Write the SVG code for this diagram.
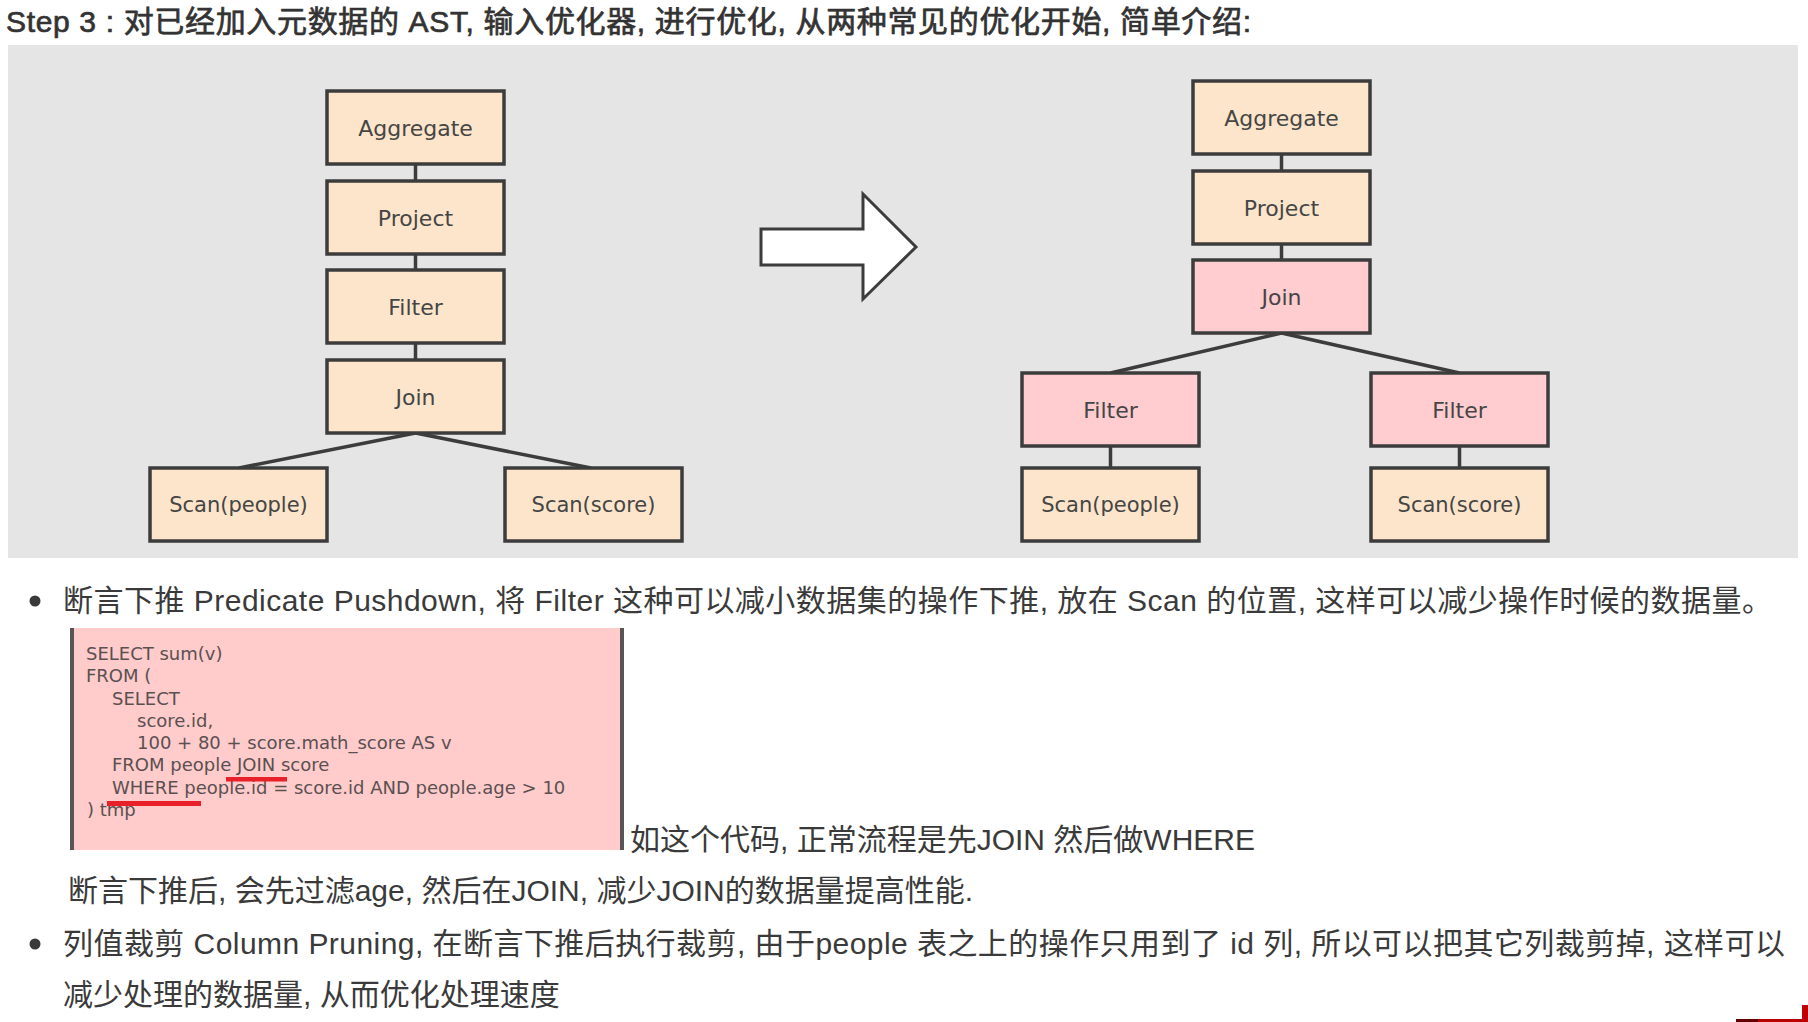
<svg xmlns="http://www.w3.org/2000/svg" width="1808" height="1022" viewBox="0 0 1808 1022">
<style>
.body{font-family:"Liberation Sans","Noto Sans CJK SC",sans-serif;font-size:30px;fill:#3a3a3a}
.title{font-family:"Liberation Sans","Noto Sans CJK SC",sans-serif;font-size:30px;font-weight:normal;fill:#333;stroke:#333;stroke-width:0.7}
.node rect{stroke:#3c3c3c;stroke-width:3.5}
.peach{fill:#fde5cb}
.pink{fill:#ffcccf}
.lbl{font-family:"DejaVu Sans",sans-serif;font-size:22px;fill:#454545;text-anchor:middle}
.lbl2{font-family:"DejaVu Sans",sans-serif;font-size:21px;fill:#454545;text-anchor:middle}
.code{font-family:"DejaVu Sans",sans-serif;font-size:18px;fill:#5a5050}
#connectors line{stroke:#3c3c3c;stroke-width:3.5}
</style>
<rect x="0" y="0" width="1808" height="1022" fill="#ffffff"/>
<text class="title" x="6" y="32" textLength="1245" lengthAdjust="spacing">Step 3 : 对已经加入元数据的 AST, 输入优化器, 进行优化, 从两种常见的优化开始, 简单介绍:</text>
<rect x="8" y="45" width="1790" height="513" fill="#e5e5e5"/>
<g id="connectors">
<line x1="415.5" y1="164" x2="415.5" y2="181"/>
<line x1="415.5" y1="254" x2="415.5" y2="270"/>
<line x1="415.5" y1="343" x2="415.5" y2="360"/>
<line x1="415.5" y1="433" x2="239" y2="468"/>
<line x1="415.5" y1="433" x2="591" y2="468"/>
<line x1="1281.5" y1="154" x2="1281.5" y2="171"/>
<line x1="1281.5" y1="244" x2="1281.5" y2="260"/>
<line x1="1281.5" y1="333" x2="1110.5" y2="373"/>
<line x1="1281.5" y1="333" x2="1459.5" y2="373"/>
<line x1="1110.5" y1="446" x2="1110.5" y2="468"/>
<line x1="1459.5" y1="446" x2="1459.5" y2="468"/>
</g>
<g id="n-l-aggregate" class="node"><rect class="peach" x="327" y="91" width="177" height="73"/><text class="lbl" x="415.5" y="135.5">Aggregate</text></g>
<g id="n-l-project" class="node"><rect class="peach" x="327" y="181" width="177" height="73"/><text class="lbl" x="415.5" y="225.5">Project</text></g>
<g id="n-l-filter" class="node"><rect class="peach" x="327" y="270" width="177" height="73"/><text class="lbl" x="415.5" y="314.5">Filter</text></g>
<g id="n-l-join" class="node"><rect class="peach" x="327" y="360" width="177" height="73"/><text class="lbl" x="415.5" y="404.5">Join</text></g>
<g id="n-l-scanpeople" class="node"><rect class="peach" x="150" y="468" width="177" height="73"/><text class="lbl2" x="238.5" y="512">Scan(people)</text></g>
<g id="n-l-scanscore" class="node"><rect class="peach" x="505" y="468" width="177" height="73"/><text class="lbl2" x="593.5" y="512">Scan(score)</text></g>
<g id="arrow"><polygon points="761,229 863,229 863,194 916,247 863,299 863,265 761,265" fill="#ffffff" stroke="#3c3c3c" stroke-width="3"/></g>
<g id="n-r-aggregate" class="node"><rect class="peach" x="1193" y="81" width="177" height="73"/><text class="lbl" x="1281.5" y="125.5">Aggregate</text></g>
<g id="n-r-project" class="node"><rect class="peach" x="1193" y="171" width="177" height="73"/><text class="lbl" x="1281.5" y="215.5">Project</text></g>
<g id="n-r-join" class="node"><rect class="pink" x="1193" y="260" width="177" height="73"/><text class="lbl" x="1281.5" y="304.5">Join</text></g>
<g id="n-r-filter1" class="node"><rect class="pink" x="1022" y="373" width="177" height="73"/><text class="lbl" x="1110.5" y="417.5">Filter</text></g>
<g id="n-r-filter2" class="node"><rect class="pink" x="1371" y="373" width="177" height="73"/><text class="lbl" x="1459.5" y="417.5">Filter</text></g>
<g id="n-r-scanpeople" class="node"><rect class="peach" x="1022" y="468" width="177" height="73"/><text class="lbl2" x="1110.5" y="512">Scan(people)</text></g>
<g id="n-r-scanscore" class="node"><rect class="peach" x="1371" y="468" width="177" height="73"/><text class="lbl2" x="1459.5" y="512">Scan(score)</text></g>
<circle cx="35" cy="601" r="5.5" fill="#3a3a3a"/>
<text class="body" x="63" y="611" textLength="1709" lengthAdjust="spacing">断言下推 Predicate Pushdown, 将 Filter 这种可以减小数据集的操作下推, 放在 Scan 的位置, 这样可以减少操作时候的数据量。</text>
<g id="codebox">
<rect x="70" y="628" width="554" height="222" fill="#ffcbcb"/>
<rect x="70" y="628" width="4" height="222" fill="#5a5555"/>
<rect x="620" y="628" width="4" height="222" fill="#5a5555"/>
<text class="code" x="86" y="660">SELECT sum(v)</text>
<text class="code" x="86" y="682">FROM (</text>
<text class="code" x="112" y="704.5">SELECT</text>
<text class="code" x="137" y="727">score.id,</text>
<text class="code" x="137" y="749">100 + 80 + score.math_score AS v</text>
<text class="code" x="112" y="771">FROM people JOIN score</text>
<text class="code" x="112" y="793.5">WHERE people.id = score.id AND people.age &gt; 10</text>
<text class="code" x="87" y="815.5">) tmp</text>
<rect x="226" y="777" width="61" height="4.5" fill="#e8202a"/>
<rect x="107" y="801" width="94" height="5" fill="#e8202a"/>
</g>
<text class="body" x="630" y="850">如这个代码, 正常流程是先JOIN 然后做WHERE</text>
<text class="body" x="68" y="901">断言下推后, 会先过滤age, 然后在JOIN, 减少JOIN的数据量提高性能.</text>
<circle cx="35" cy="944" r="5.5" fill="#3a3a3a"/>
<text class="body" x="63" y="954" textLength="1722" lengthAdjust="spacing">列值裁剪 Column Pruning, 在断言下推后执行裁剪, 由于people 表之上的操作只用到了 id 列, 所以可以把其它列裁剪掉, 这样可以</text>
<text class="body" x="63" y="1005">减少处理的数据量, 从而优化处理速度</text>
<rect x="1736" y="1019" width="72" height="3" fill="#b80000"/>
<rect x="1736" y="1019" width="22" height="3" fill="#600000"/>
<rect x="1802" y="1005" width="6" height="17" fill="#c00000"/>
</svg>
